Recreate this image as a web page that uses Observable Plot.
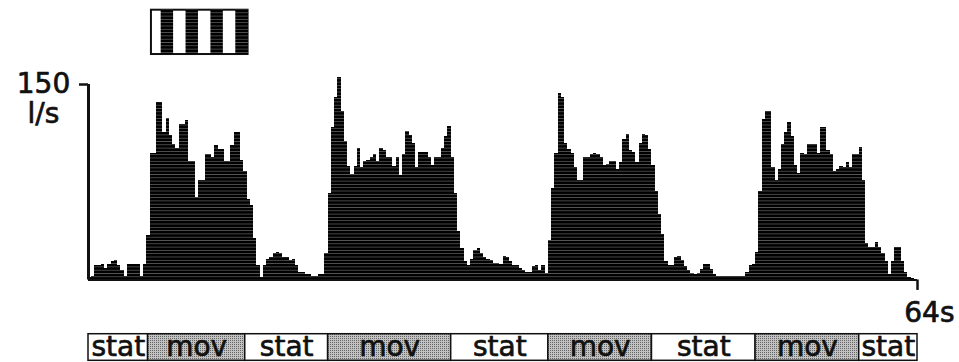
<!DOCTYPE html>
<html><head><meta charset="utf-8">
<script src="https://cdn.jsdelivr.net/npm/d3@7"></script>
<script src="https://cdn.jsdelivr.net/npm/@observablehq/plot@0.6"></script>
<style>
html,body{margin:0;padding:0;background:#fff;}
#chart svg{display:block;}
</style></head><body><div id="chart"></div>
<script>
// ---- data ----
const binSeconds = 0.25;          // histogram bin width (s)
const totalSeconds = 64;
const rates = [                    // impulses per second, one value per bin
  2,3,11,11,12,9,12,14,15,11,7,3,12,12,12,12,
  3,12,34,97,97,136,136,113,124,111,104,101,119,119,122,91,
  91,63,76,76,96,96,94,103,100,100,91,91,103,113,113,92,
  83,62,57,32,11,2,11,16,17,20,21,20,17,17,15,16,
  11,6,6,4,4,3,3,4,4,20,66,117,140,155,129,106,
  87,81,87,101,86,91,92,94,96,91,101,99,94,94,87,94,
  80,96,114,111,105,86,98,98,98,94,88,94,94,101,110,118,
  94,66,37,24,14,11,16,23,24,20,17,16,15,13,13,12,
  18,17,14,11,11,9,7,6,6,10,11,7,11,5,30,70,
  97,143,140,105,100,97,86,76,76,94,94,96,97,96,94,88,
  89,91,91,85,90,108,112,99,98,90,105,112,111,100,88,68,
  50,35,14,11,11,17,18,15,10,7,5,4,5,8,12,12,
  8,4,3,3,3,3,3,3,3,3,3,6,11,12,21,68,
  123,129,129,86,76,85,104,113,121,110,88,82,97,96,104,104,
  104,97,117,117,99,96,83,85,87,86,90,86,96,96,102,76,
  28,25,25,29,25,20,14,4,14,25,25,14,6,2,1,0.5
];
const stateLabels = ["stat","mov","stat","mov","stat","mov","stat","mov","stat"];
const stateBounds = [0,4.6,12.1,18.5,28,35.5,43.5,51.5,59.5,64];   // seconds
const gratingSpan = [4.86, 12.32];                                  // seconds
const gratingBlackStarts = [5.61, 7.53, 9.45, 11.37];              // seconds
const gratingStripeWidth = 0.96;
const yMax = 150;
const yTickLabel = "150";
const yUnit = "l/s";
const xEndLabel = "64s";

// ---- derived tables ----
const hist = rates.map((v, i) => ({t0: i * binSeconds, t1: (i + 1) * binSeconds, v}));
const states = stateLabels.map((label, i) => ({label, start: stateBounds[i], end: stateBounds[i + 1]}));
const stripes = gratingBlackStarts.map(s => ({s, e: s + gratingStripeWidth}));

// layout (in y units, outside the data domain)
const band = {top: -41.6, bottom: -62};
const icon = {bottom: 173, top: 207};

const font = "DejaVu Sans";
const ink = "#111";
const textStyle = {fontSize: 28, fill: ink, stroke: ink, strokeWidth: 0.7};
const plot = Plot.plot({
  width: 959, height: 362,
  marginLeft: 88, marginRight: 42, marginTop: 84, marginBottom: 82.5,
  x: {domain: [0, totalSeconds], axis: null},
  y: {domain: [0, yMax], axis: null},
  style: {fontFamily: font, background: "white"},
  marks: [
    Plot.rectY(hist, {x1: "t0", x2: "t1", y: "v", fill: "url(#scan)", shapeRendering: "crispEdges"}),
    Plot.ruleY([0], {x1: 0, x2: totalSeconds, stroke: ink, strokeWidth: 2.2}),
    Plot.ruleX([0], {y1: 0, y2: yMax, stroke: ink, strokeWidth: 3}),
    Plot.ruleY([yMax], {x1: 0, x2: 0, insetLeft: -9, stroke: ink, strokeWidth: 2.5}),
    Plot.ruleX([totalSeconds], {y1: 0, y2: -8, stroke: ink, strokeWidth: 2.5}),
    Plot.text([yTickLabel], {x: 0, y: yMax, text: d => d, dx: -45, ...textStyle}),
    Plot.text([yUnit], {x: 0, y: yMax, text: d => d, dx: -45, dy: 30, ...textStyle}),
    Plot.text([xEndLabel], {x: totalSeconds, y: 0, text: d => d, dx: 37, dy: 33, textAnchor: "end", ...textStyle}),
    // stimulus grating icon
    Plot.rect([gratingSpan], {x1: d => d[0], x2: d => d[1], y1: icon.bottom, y2: icon.top, fill: "white", stroke: ink, strokeWidth: 2}),
    Plot.rect(stripes, {x1: "s", x2: "e", y1: icon.bottom, y2: icon.top, fill: "url(#scan)"}),
    // stat / mov band
    Plot.rect(states, {x1: "start", x2: "end", y1: band.top, y2: band.bottom,
      fill: d => d.label === "mov" ? "url(#stipple)" : "white", stroke: ink, strokeWidth: 1.5}),
    Plot.text(states, {x: d => (d.start + d.end) / 2, y: (band.top + band.bottom) / 2, text: "label", ...textStyle})
  ]
});

const ns = "http://www.w3.org/2000/svg";
const defs = document.createElementNS(ns, "defs");
defs.innerHTML = `
<pattern id="scan" patternUnits="userSpaceOnUse" width="10" height="3.3">
  <rect width="10" height="3.3" fill="#000"/>
  <rect y="2.6" width="10" height="0.6" fill="#777"/>
</pattern>
<pattern id="stipple" patternUnits="userSpaceOnUse" width="2" height="2">
  <rect width="2" height="2" fill="#c2c2c2"/>
  <rect width="1" height="1" fill="#666"/>
</pattern>`;
plot.insertBefore(defs, plot.firstChild);
document.getElementById("chart").appendChild(plot);
</script>
</body></html>
